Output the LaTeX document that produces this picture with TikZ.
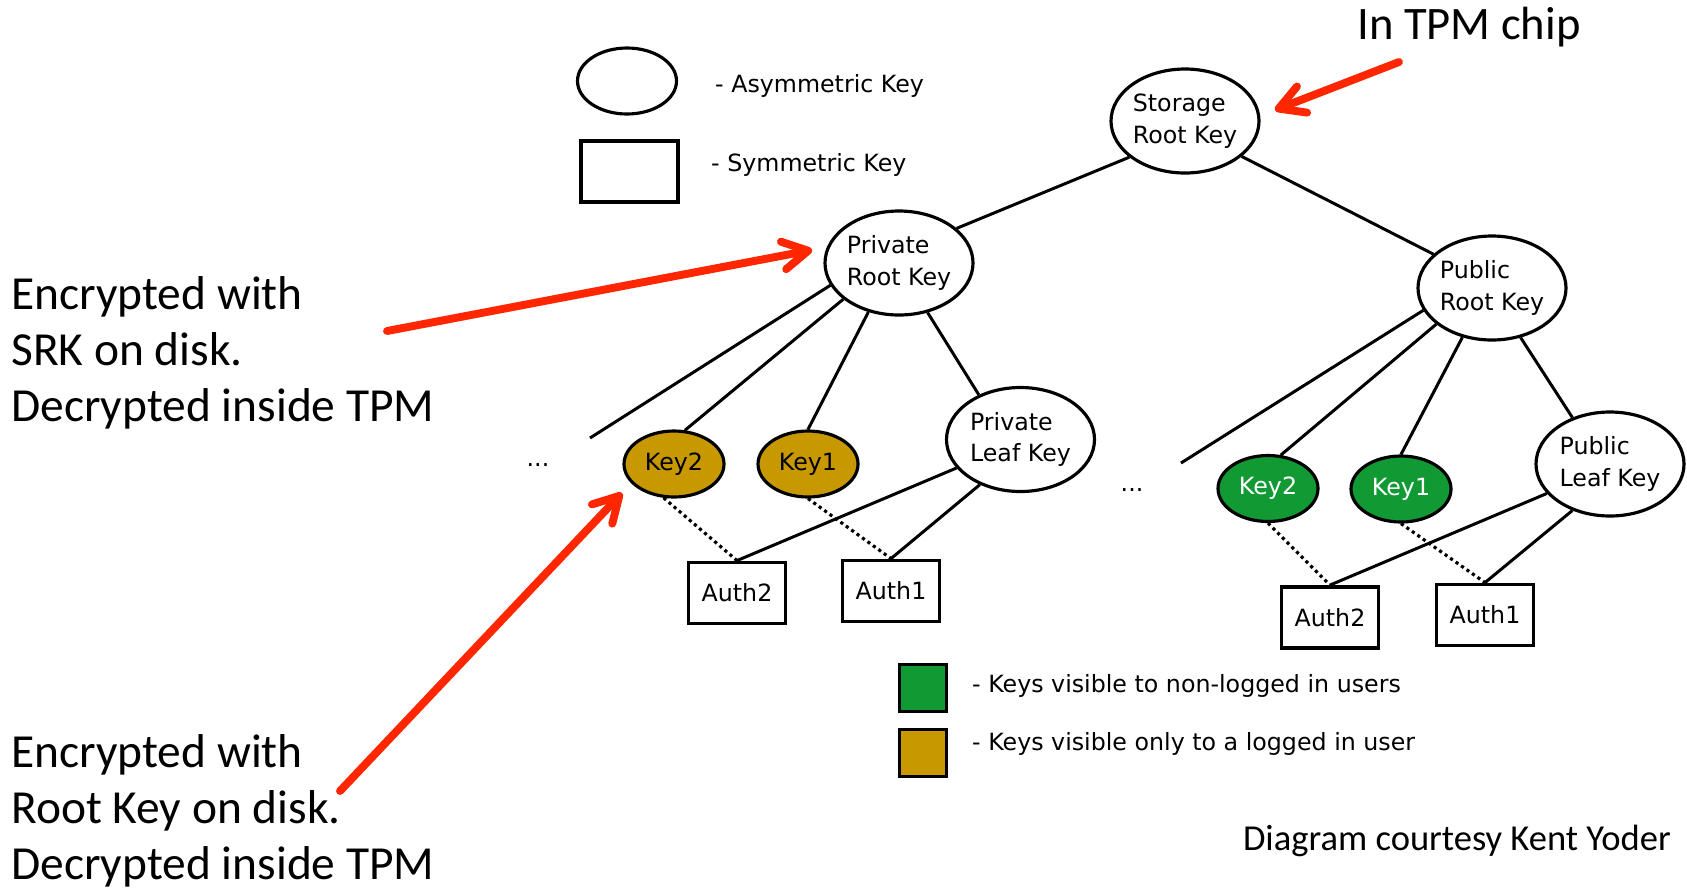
\documentclass[tikz,border=0pt]{standalone}
\usepackage{fontspec}
\setmainfont{DejaVu Sans}
\newfontfamily\calibri{Carlito}
\usetikzlibrary{arrows.meta, shapes.geometric}
\definecolor{keygold}{RGB}{200,152,0}
\definecolor{keygreen}{RGB}{17,153,51}
\definecolor{callred}{RGB}{255,38,0}

\begin{document}
\begin{tikzpicture}[x=0.2mm, y=-0.2mm,
  font=\fontsize{13.5}{18}\selectfont,
  rootkey/.style={draw, ellipse, line width=1.8pt, minimum width=29.6mm, minimum height=20.8mm, inner sep=0pt, align=left},
  userkey/.style={draw, ellipse, line width=1.8pt, minimum width=20mm, minimum height=13.2mm, inner sep=0pt},
  authbox/.style={draw, rectangle, line width=2.2pt, minimum width=19.4mm, minimum height=12.2mm},
  link/.style={line width=1.7pt},
  authlink/.style={line width=1.8pt, dotted},
  callout/.style={callred, line width=4.5pt, line cap=round, -{Straight Barb[length=5mm,width=5.6mm,round]}},
  note/.style={font=\calibri\fontsize{27}{32}\selectfont, align=left, anchor=west, inner sep=0pt}]
  \useasboundingbox (0,0) rectangle (1687,891);

  % legend
  \node[draw, ellipse, line width=1.8pt, minimum width=19.8mm, minimum height=13.2mm] (asym) at (627,81) {};
  \node[anchor=west] (asymtxt) at (709,86) {- Asymmetric Key};
  \node[authbox] (sym) at (629.5,171.5) {};
  \node[anchor=west] (symtxt) at (705,165) {- Symmetric Key};

  % key hierarchy
  \node[rootkey] (srk) at (1185,121) {Storage\\Root Key};
  \node[rootkey] (prk) at (899,263) {Private\\Root Key};
  \node[rootkey] (pubrk) at (1492,288) {Public\\Root Key};

  \node (pdots) at (538,465) {...};
  \coordinate (pend) at (590,438);
  \node[userkey, fill=keygold] (pk2) at (674,464) {Key2};
  \node[userkey, fill=keygold] (pk1) at (808,464) {Key1};
  \node[rootkey] (plk) at (1020.5,439.5) {Private\\Leaf Key};
  \node[authbox] (pa2) at (737,593) {Auth2};
  \node[authbox] (pa1) at (891,591) {Auth1};

  \node (udots) at (1132,490) {...};
  \coordinate (uend) at (1181,463);
  \node[userkey, fill=keygreen, text=white] (uk2) at (1268,488.5) {Key2};
  \node[userkey, fill=keygreen, text=white] (uk1) at (1401,489) {Key1};
  \node[rootkey] (ulk) at (1610,464) {Public\\Leaf Key};
  \node[authbox] (ua2) at (1330,617.5) {Auth2};
  \node[authbox] (ua1) at (1485,615) {Auth1};

  \draw[link] (srk.213) -- (prk.31);
  \draw[link] (srk.328) -- (pubrk.150);

  \draw[link] (prk.198) -- (pend);
  \draw[link] (prk.213) -- (pk2.72);
  \draw[link] (prk.238) -- (pk1.north);
  \draw[link] (prk.300) -- (plk.133);
  \draw[link] (plk.204) -- (pa2.north);
  \draw[link] (plk.228) -- (pa1.north);
  \draw[authlink] (pk2.253) -- (pa2.north);
  \draw[authlink] (pk1.south) -- (pa1.north);

  \draw[link] (pubrk.198) -- (uend);
  \draw[link] (pubrk.213) -- (uk2.69);
  \draw[link] (pubrk.239) -- (uk1.north);
  \draw[link] (pubrk.300) -- (ulk.129);
  \draw[link] (ulk.205) -- (ua2.north);
  \draw[link] (ulk.231) -- (ua1.north);
  \draw[authlink] (uk2.south) -- (ua2.north);
  \draw[authlink] (uk1.south) -- (ua1.north);

  % colour legend
  \node[draw, line width=2.2pt, fill=keygreen, minimum size=9.4mm] (greensq) at (923,688) {};
  \node[anchor=west] (greentxt) at (966,686) {- Keys visible to non-logged in users};
  \node[draw, line width=2.2pt, fill=keygold, minimum size=9.4mm] (goldsq) at (923,753) {};
  \node[anchor=west] (goldtxt) at (966,744) {- Keys visible only to a logged in user};

  % callouts
  \node[font=\calibri\fontsize{26.5}{32}\selectfont] (tpmnote) at (1469,27) {In TPM chip};
  \node[note] (srknote) at (11,353) {Encrypted with\\SRK on disk.\\Decrypted inside TPM};
  \node[note] (rknote) at (11,811) {Encrypted with\\Root Key on disk.\\Decrypted inside TPM};
  \node[font=\calibri\fontsize{20.8}{24}\selectfont, anchor=east] (credit) at (1677,841) {Diagram courtesy Kent Yoder};

  \coordinate (tpmfrom) at (1399,62);
  \coordinate (tpmto) at (1275,110);
  \coordinate (srkfrom) at (387,331);
  \coordinate (srkto) at (812,250);
  \coordinate (rkfrom) at (340,791);
  \coordinate (rkto) at (622,493);
  \draw[callout] (tpmfrom) -- (tpmto);
  \draw[callout] (srkfrom) -- (srkto);
  \draw[callout] (rkfrom) -- (rkto);
\end{tikzpicture}
\end{document}
